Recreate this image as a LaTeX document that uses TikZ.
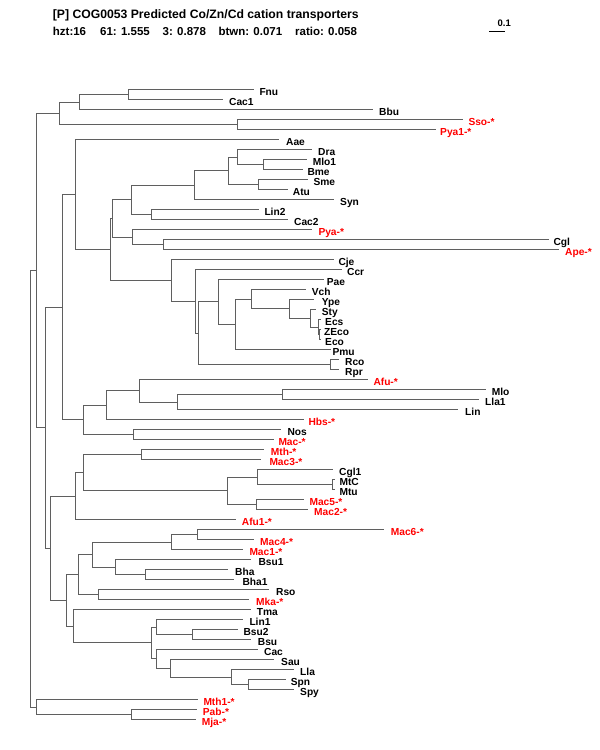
\documentclass[tikz,border=0pt]{standalone}
\usepackage{fontspec}
\setmainfont{Liberation Sans}
\newcommand\labfont{\bfseries\fontsize{10.2}{10}\selectfont}
\newcommand\ttlfont{\bfseries\fontsize{12.2}{12}\selectfont}
\newcommand\statfont{\bfseries\fontsize{11.5}{12}\selectfont}
\definecolor{lineg}{RGB}{95,95,95}
\definecolor{labred}{RGB}{255,0,0}
% internal tree node snapped to pixel centres
\newcommand\nd[3]{\pgfmathsetmacro\ndx{round(#2)+0.5}\pgfmathsetmacro\ndy{round(#3)-0.5}\coordinate (#1) at (\ndx,\ndy);}
\begin{document}
\begin{tikzpicture}[x=1pt,y=-1pt,
  branch/.style={draw=lineg,line width=1.5pt},
  lab/.style={anchor=base west,inner sep=0pt,font=\labfont},
  ttl/.style={anchor=base west,inner sep=0pt,font=\ttlfont},
  stat/.style={anchor=base west,inner sep=0pt,font=\statfont}]
\useasboundingbox (0,0) rectangle (600,750);
% title
\node[ttl] (title) at (52.7,18.5) {[P] COG0053 Predicted Co/Zn/Cd cation transporters};
\node[stat] (s1) at (52.7,35.7) {hzt:16};
\node[stat] (s2) at (100,35.7) {61: 1.555};
\node[stat] (s3) at (162.5,35.7) {3: 0.878};
\node[stat] (s4) at (218.3,35.7) {btwn: 0.071};
\node[stat] (s5) at (295,35.7) {ratio: 0.058};
% scale bar
\coordinate (sbA) at (489,31.5);
\coordinate (sbB) at (505,31.5);
\draw[draw=black,line width=1pt] (sbA) -- (sbB);
\node[anchor=base west,inner sep=0pt,font=\bfseries\fontsize{9.5}{9}\selectfont] (sbl) at (497.5,26.7) {0.1};
% leaves: name/end x/y/label x/text/colour
\foreach \n/\e/\y/\l/\t/\c in {
Fnu/253/90/259.3/Fnu/black,
Cac1/222/100/229/Cac1/black,
Bbu/372/110/379/Bbu/black,
Sso/462/120/468.3/Sso-*/labred,
Pya1/435/130/440/Pya1-*/labred,
Aae/278/140/286/Aae/black,
Dra/311/150/318/Dra/black,
Mlo1/305.7/160/312.7/Mlo1/black,
Bme/301.7/170/307.3/Bme/black,
Sme/306.7/180/313.3/Sme/black,
Atu/286.7/190/292.7/Atu/black,
Syn/333.3/200/340/Syn/black,
Lin2/258.3/210/264.3/Lin2/black,
Cac2/287.3/220/294/Cac2/black,
Pya/311/230/318.3/Pya-*/labred,
Cgl/548.3/240/553.3/Cgl/black,
Ape/558.3/250/565/Ape-*/labred,
Cje/333.3/260/338.3/Cje/black,
Ccr/341/270/347/Ccr/black,
Pae/323.3/280/326.7/Pae/black,
Vch/305/290/311.7/Vch/black,
Ype/313/300/321.7/Ype/black,
Sty/315/310/321.7/Sty/black,
Ecs/320/320/325/Ecs/black,
ZEco/320/330/324/ZEco/black,
Eco/320/340/325/Eco/black,
Pmu/330/350/332.3/Pmu/black,
Rco/338.3/360/345/Rco/black,
Rpr/338.3/370/345/Rpr/black,
Afu/366.7/380/373.3/Afu-*/labred,
Mlo/485/390/491.7/Mlo/black,
Lla1/478.3/400/485/Lla1/black,
Lin/456.7/410/465/Lin/black,
Hbs/303.3/420/308.3/Hbs-*/labred,
Nos/280/430/287.3/Nos/black,
Mac/273.3/440/278.3/Mac-*/labred,
Mth/263.3/450/270.7/Mth-*/labred,
Mac3/260/460/269.3/Mac3-*/labred,
Cgl1/332.3/470/339/Cgl1/black,
MtC/333.5/480/339.3/MtC/black,
Mtu/333.5/490/339.3/Mtu/black,
Mac5/303.3/500/309.3/Mac5-*/labred,
Mac2/306.7/510/314/Mac2-*/labred,
Afu1/235/520/241.7/Afu1-*/labred,
Mac6/383.3/530/390.7/Mac6-*/labred,
Mac4/253.3/540/260/Mac4-*/labred,
Mac1/241.7/550/249.3/Mac1-*/labred,
Bsu1/250/560/258.3/Bsu1/black,
Bha/226.7/570/235/Bha/black,
Bha1/233.3/580/242.3/Bha1/black,
Rso/268.3/590/276/Rso/black,
Mka/248.3/600/256/Mka-*/labred,
Tma/250/610/256.7/Tma/black,
Lin1/241.7/620/249.3/Lin1/black,
Bsu2/236.7/630/243.3/Bsu2/black,
Bsu/250/640/257.7/Bsu/black,
Cac/256.7/650/264/Cac/black,
Sau/273.3/660/281/Sau/black,
Lla/293.3/670/300/Lla/black,
Spn/285/680/290.7/Spn/black,
Spy/293.3/690/300/Spy/black,
Mth1/196.7/700/203.3/Mth1-*/labred,
Pab/195.7/710/202.7/Pab-*/labred,
Mja/195/720/201.7/Mja-*/labred}
{\pgfmathsetmacro\ex{round(\e)+0.5}
 \coordinate (\n) at (\ex,\y-0.5);
 \node[lab,text=\c] (l\n) at (\l,\y+5) {\t};}
% internal nodes
\nd{a1}{128}{95}
\nd{a2}{79}{102.5}
\nd{a3}{237}{125}
\nd{a4}{58.7}{113.75}
\nd{b1}{263.3}{165}
\nd{b2}{236.7}{157.5}
\nd{b3}{257.7}{185}
\nd{b4}{227.7}{171.25}
\nd{b5}{194.3}{185.6}
\nd{b6}{151}{215}
\nd{nD}{130.7}{200.3}
\nd{b7}{163.3}{245}
\nd{nE}{132.3}{237.5}
\nd{nB}{111.7}{218.9}
\nd{nN}{319.4}{335}
\nd{nM}{318.3}{327.5}
\nd{nL}{310}{318.75}
\nd{nK}{289.3}{309.4}
\nd{nJ}{250.7}{299.7}
\nd{nI}{235}{324.8}
\nd{nH}{217.7}{302.4}
\nd{nR2}{330}{365}
\nd{nG}{198.3}{333.7}
\nd{nF}{195}{301.9}
\nd{nC}{170.7}{280.9}
\nd{nA}{110}{249.9}
\nd{n75}{75}{194.9}
\nd{nS}{281.7}{395}
\nd{nR}{176.7}{402.5}
\nd{nQ}{139}{391.25}
\nd{nO}{105.7}{405.6}
\nd{nP}{133.3}{435}
\nd{n83}{83.3}{420.3}
\nd{n61}{61.7}{307.6}
\nd{nW}{141}{455}
\nd{nY2}{332.3}{485}
\nd{nY}{257.3}{477.5}
\nd{nZ}{256}{505}
\nd{nX}{226.7}{491.25}
\nd{nV}{82.7}{473.1}
\nd{nT}{75}{496.6}
\nd{nAG}{196.7}{535}
\nd{nAE}{171}{542.5}
\nd{nAH}{145}{575}
\nd{nAF}{115}{567.5}
\nd{nAC}{91.7}{555}
\nd{nAD}{97.7}{595}
\nd{nAA}{77.7}{575}
\nd{nAL}{192.3}{635}
\nd{nAJ}{156}{627.5}
\nd{nAO}{248.3}{685}
\nd{nAN}{231}{677.5}
\nd{nAM}{170}{668.75}
\nd{nAK}{156}{659.4}
\nd{nAI}{151}{643.4}
\nd{nAB}{73.3}{626.7}
\nd{nU}{65.7}{600.9}
\nd{n50}{50}{548.7}
\nd{n45}{45}{428.2}
\nd{n36}{35.7}{270.9}
\nd{nPM}{130.7}{715}
\nd{nArch}{35.7}{707.5}
\nd{root}{30}{489.2}
% branches
\foreach \p/\c in {
a1/Fnu,a1/Cac1,a2/a1,a2/Bbu,a3/Sso,a3/Pya1,a4/a2,a4/a3,
b1/Mlo1,b1/Bme,b2/Dra,b2/b1,b3/Sme,b3/Atu,b4/b2,b4/b3,b5/b4,b5/Syn,
b6/Lin2,b6/Cac2,nD/b5,nD/b6,b7/Cgl,b7/Ape,nE/Pya,nE/b7,nB/nD,nB/nE,
nN/ZEco,nN/Eco,nM/Ecs,nM/nN,nL/Sty,nL/nM,nK/Ype,nK/nL,nJ/Vch,nJ/nK,
nI/nJ,nI/Pmu,nH/Pae,nH/nI,nR2/Rco,nR2/Rpr,nG/nH,nG/nR2,nF/Ccr,nF/nG,
nC/Cje,nC/nF,nA/nB,nA/nC,n75/Aae,n75/nA,
nS/Mlo,nS/Lla1,nR/nS,nR/Lin,nQ/Afu,nQ/nR,nO/nQ,nO/Hbs,nP/Nos,nP/Mac,
n83/nO,n83/nP,n61/n75,n61/n83,
nW/Mth,nW/Mac3,nY2/MtC,nY2/Mtu,nY/Cgl1,nY/nY2,nZ/Mac5,nZ/Mac2,
nX/nY,nX/nZ,nV/nW,nV/nX,nT/nV,nT/Afu1,
nAG/Mac6,nAG/Mac4,nAE/nAG,nAE/Mac1,nAH/Bha,nAH/Bha1,nAF/Bsu1,nAF/nAH,
nAC/nAE,nAC/nAF,nAD/Rso,nAD/Mka,nAA/nAC,nAA/nAD,
nAL/Bsu2,nAL/Bsu,nAJ/Lin1,nAJ/nAL,nAO/Spn,nAO/Spy,nAN/Lla,nAN/nAO,
nAM/Sau,nAM/nAN,nAK/Cac,nAK/nAM,nAI/nAJ,nAI/nAK,nAB/Tma,nAB/nAI,
nU/nAA,nU/nAB,n50/nT,n50/nU,n45/n61,n45/n50,n36/a4,n36/n45,
nPM/Pab,nPM/Mja,nArch/Mth1,nArch/nPM,root/n36,root/nArch}
{\draw[branch] (\p) |- (\c);}
\end{tikzpicture}
\end{document}
